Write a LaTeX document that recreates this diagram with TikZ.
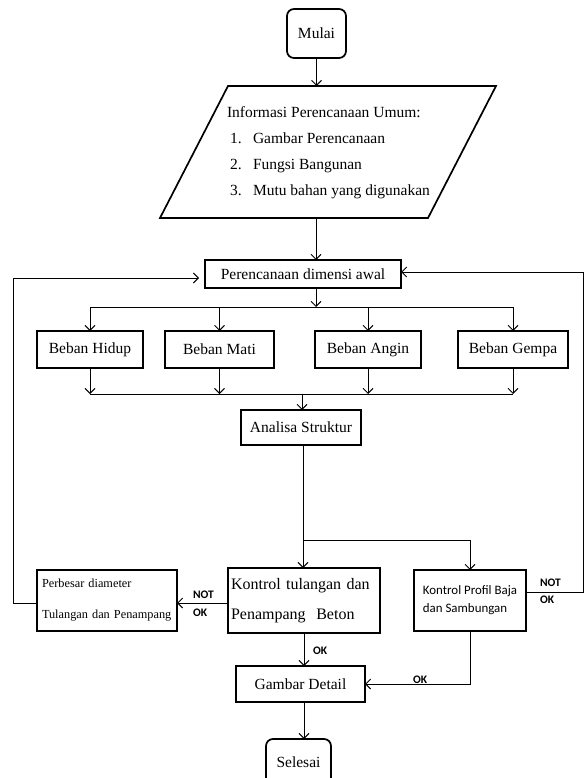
\documentclass[tikz,border=0pt]{standalone}
\usepackage{fontspec}
\setmainfont{Liberation Serif}
\newfontfamily\carlito{Carlito}
\usetikzlibrary{arrows.meta}
\begin{document}
\begin{tikzpicture}[x=1pt,y=-1pt,
  every node/.style={inner sep=0pt, outer sep=0pt},
  txt/.style={font=\fontsize{15.5}{18}\selectfont},
  box/.style={draw, line width=1.7pt, txt, align=center},
  term/.style={box, rounded corners=7pt},
  conn/.style={line width=0.9pt},
  arr/.style={conn, -{Straight Barb[length=5pt,width=10pt,line width=0.9pt]}},
  lbl/.style={font=\carlito\bfseries\fontsize{11.5}{13}\selectfont, anchor=west}
]
\useasboundingbox (0,0) rectangle (584,778);

% terminals
\node[term, minimum width=59, minimum height=49] (mulai) at (316.5,33.5) {Mulai};
\node[term, minimum width=65, minimum height=46] (selesai) at (298.5,762) {Selesai};

% parallelogram
\coordinate (pTL) at (228,86);
\coordinate (pTR) at (496,86);
\coordinate (pBR) at (428,218);
\coordinate (pBL) at (160,218);
\draw[line width=1.7pt, line join=miter] (pTL) -- (pTR) -- (pBR) -- (pBL) -- cycle;
\coordinate (pB) at (316,218);
\node[txt, anchor=base west] (i0) at (227,118) {Informasi Perencanaan Umum:};
\node[txt, anchor=base west] (n1) at (230,144) {1.};
\node[txt, anchor=base west] (t1) at (253,144) {Gambar Perencanaan};
\node[txt, anchor=base west] (n2) at (230,170) {2.};
\node[txt, anchor=base west] (t2) at (253,170) {Fungsi Bangunan};
\node[txt, anchor=base west] (n3) at (230,195) {3.};
\node[txt, anchor=base west] (t3) at (253,195) {Mutu bahan yang digunakan};

% boxes
\node[box, minimum width=196, minimum height=28] (plan) at (303,274) {Perencanaan dimensi awal};
\node[box, minimum width=106, minimum height=37] (hidup) at (90,349.5) {Beban Hidup};
\node[box, minimum width=109, minimum height=37] (mati) at (219.5,349.5) {Beban Mati};
\node[box, minimum width=106, minimum height=37] (angin) at (368,349.5) {Beban Angin};
\node[box, minimum width=110, minimum height=37] (gempa) at (513,349.5) {Beban Gempa};
\node[box, minimum width=120, minimum height=35] (analisa) at (301,427.5) {Analisa Struktur};
\node[draw, line width=1.7pt, minimum width=152, minimum height=65, align=left, text width=146,
      font=\fontsize{16}{30}\selectfont] (ktul) at (304,600.5) {Kontrol tulangan dan\\Penampang\ \ Beton};
\node[draw, line width=1.7pt, minimum width=112, minimum height=61, align=left,
      font=\carlito\fontsize{12.9}{18}\selectfont] (kprof) at (470,600.5) {Kontrol Profil Baja\\dan Sambungan};
\node[draw, line width=1.7pt, minimum width=140, minimum height=61, align=left, text width=130,
      font=\fontsize{12.3}{31}\selectfont] (perbesar) at (107,600.5) {Perbesar diameter\\Tulangan dan Penampang};
\node[box, minimum width=129, minimum height=36] (gambar) at (300.5,684) {Gambar Detail};

% helper coordinates
\coordinate (br1) at (316,307);
\coordinate (j) at (302,394);
\coordinate (br2) at (303,540);
\coordinate (ly) at (0,603);
\coordinate (L1) at (13,603);
\coordinate (L2) at (13,278);
\coordinate (ry) at (0,592);
\coordinate (R1) at (583,592);
\coordinate (R2) at (583,272);

% connectors
\draw[arr] (mulai.south) -- (mulai.south |- pTL);
\draw[arr] (pB) -- (pB |- plan.north);
\draw[arr] (br1 |- plan.south) -- (br1);
\draw[conn] (hidup.north |- br1) -- (gempa.north |- br1);
\foreach \b in {hidup,mati,angin,gempa}{
  \draw[arr] (\b.north |- br1) -- (\b.north);
  \draw[arr] (\b.south) -- (\b.south |- j);
}
\draw[conn] (hidup.south |- j) -- (gempa.south |- j);
\draw[arr] (j) -- (j |- analisa.north);
\draw[arr] (br2 |- analisa.south) -- (br2 |- ktul.north);
\draw[arr] (br2) -| (kprof.north);
\draw[arr] (ktul.west |- ly) -- (perbesar.east |- ly);
\draw[arr, shorten >=6pt] (perbesar.west |- ly) -- (L1) -- (L2) -- (plan.west |- L2);
\draw[arr] (kprof.east |- ry) -- (R1) -- (R2) -- (plan.east |- R2);
\draw[arr] (ktul.south) -- (ktul.south |- gambar.north);
\draw[arr] (kprof.south) |- (gambar.east);
\draw[arr] (ktul.south |- gambar.south) -- (ktul.south |- selesai.north);

% labels
\node[lbl] (nok1) at (193,595) {NOT};
\node[lbl] (ok1) at (193,613) {OK};
\node[lbl] (nok2) at (540,583) {NOT};
\node[lbl] (ok2) at (540,600) {OK};
\node[lbl] (ok3) at (313,651) {OK};
\node[lbl] (ok4) at (413,680) {OK};
\end{tikzpicture}
\end{document}
